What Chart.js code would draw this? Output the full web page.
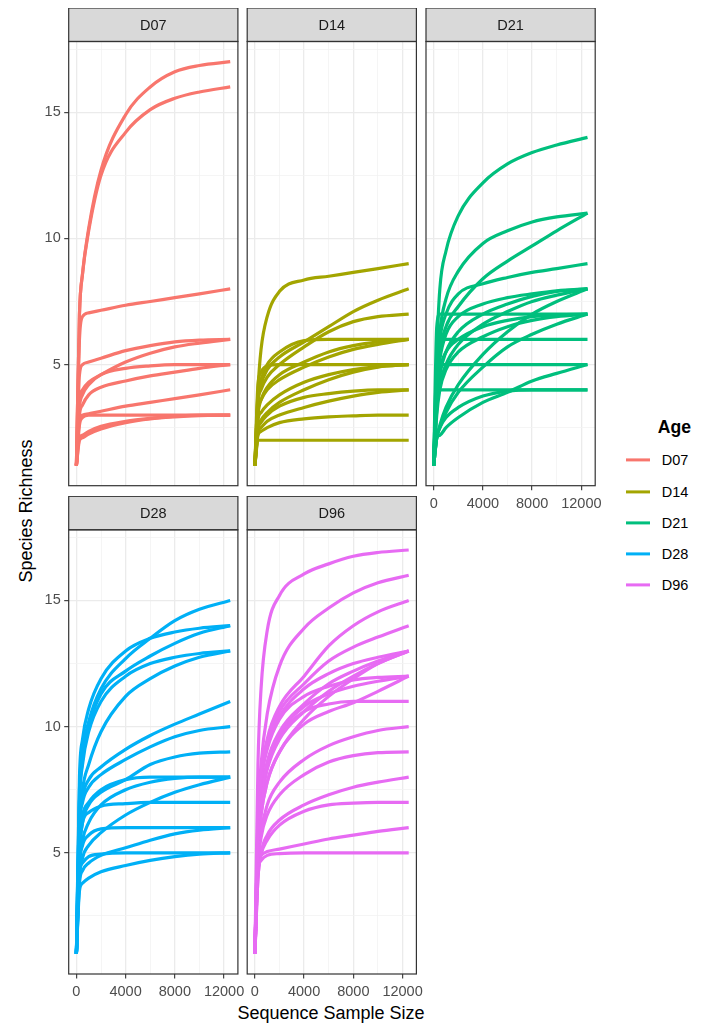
<!DOCTYPE html>
<html>
<head>
<meta charset="utf-8">
<script src="https://cdn.jsdelivr.net/npm/chart.js@4.4.1/dist/chart.umd.min.js"></script>
<style>
  body { margin: 0; background: #fff; }
  #page { position: relative; width: 702px; height: 1028px; overflow: hidden; font-family: "Liberation Sans", Arial, sans-serif; }
  #page canvas { position: absolute; }
  .axis-title { position: absolute; font-size: 18px; color: #000; white-space: nowrap; transform: translate(-50%, -50%); }
  .legend-title { position: absolute; font-size: 17.6px; font-weight: bold; color: #000; transform: translateY(-50%); }
  .legend-key { position: absolute; height: 3.2px; transform: translateY(-50%); }
  .legend-label { position: absolute; font-size: 14.5px; color: #000; transform: translateY(-50%); }
</style>
</head>
<body>
<div id="page">
  <div class="axis-title" style="left:331px; top:1013px;">Sequence Sample Size</div>
  <div class="axis-title" style="left:26px; top:511px; transform: translate(-50%, -50%) rotate(-90deg);">Species Richness</div>
</div>
<script>
const depths = [1, 250, 500, 1000, 2000, 4000, 6000, 8000, 10000, 12500];

const ageGroups = ['D07', 'D14', 'D21', 'D28', 'D96'];
const ageColors = ['#F8766D', '#A3A500', '#00BF7D', '#00B0F6', '#E76BF3'];

// grid breaks (major + minor) and the labelled ones
const xBreaks = [0, 2000, 4000, 6000, 8000, 10000, 12000];
const yBreaks = [2.5, 5, 7.5, 10, 12.5, 15, 17.5];
const xTickLabels = [0, 4000, 8000, 12000];
const yTickLabels = [5, 10, 15];

// one row per sample, values follow depths
const richnessD07 = [
    [1, 7.0, 8.6, 10.4, 12.7, 14.9, 16.0, 16.6, 16.85, 17],
    [1, 7.0, 8.6, 10.3, 12.5, 14.2, 15.1, 15.55, 15.8, 16],
    [1, 6.0, 6.9, 7.05, 7.15, 7.35, 7.5, 7.65, 7.8, 8],
    [1, 4.6, 5.0, 5.1, 5.25, 5.55, 5.75, 5.9, 5.97, 6],
    [1, 3.6, 4.0, 4.3, 4.6, 5.1, 5.45, 5.7, 5.85, 6],
    [1, 3.3, 3.8, 4.2, 4.6, 4.85, 4.95, 5, 5, 5],
    [1, 3.0, 3.4, 3.8, 4.1, 4.35, 4.55, 4.7, 4.85, 5],
    [1, 2.8, 3.0, 3.05, 3.15, 3.35, 3.5, 3.65, 3.8, 4],
    [1, 2.6, 2.9, 3.0, 3.0, 3.0, 3.0, 3.0, 3.0, 3],
    [1, 2.1, 2.2, 2.35, 2.55, 2.75, 2.87, 2.95, 3, 3],
    [1, 2.0, 2.1, 2.25, 2.45, 2.7, 2.85, 2.93, 2.98, 3]
];

const richnessD14 = [
    [1, 4.0, 5.6, 6.9, 7.9, 8.35, 8.5, 8.65, 8.8, 9],
    [1, 3.5, 4.2, 4.8, 5.3, 5.9, 6.5, 7.1, 7.55, 8],
    [1, 3.5, 4.0, 4.5, 5.0, 5.7, 6.3, 6.7, 6.9, 7],
    [1, 3.8, 4.4, 5.0, 5.5, 5.95, 6, 6, 6, 6],
    [1, 3.2, 3.6, 4.0, 4.4, 4.9, 5.3, 5.6, 5.8, 6],
    [1, 3.0, 3.6, 4.1, 4.6, 5.1, 5.5, 5.75, 5.9, 6],
    [1, 4.2, 4.7, 4.95, 5, 5, 5, 5, 5, 5],
    [1, 2.8, 3.1, 3.4, 3.8, 4.3, 4.6, 4.8, 4.92, 5],
    [1, 2.5, 2.8, 3.1, 3.5, 4.0, 4.4, 4.7, 4.9, 5],
    [1, 2.4, 2.7, 3.0, 3.35, 3.7, 3.85, 3.95, 4, 4],
    [1, 2.3, 2.5, 2.75, 3.0, 3.3, 3.55, 3.75, 3.9, 4],
    [1, 2.2, 2.35, 2.5, 2.7, 2.85, 2.93, 2.97, 3, 3],
    [1, 2, 2, 2, 2, 2, 2, 2, 2, 2]
];

const richnessD21 = [
    [1, 5.5, 8.0, 9.5, 10.9, 12.2, 12.95, 13.4, 13.7, 14],
    [1, 4.5, 6.3, 7.6, 8.7, 9.8, 10.3, 10.65, 10.85, 11],
    [1, 4.0, 5.5, 6.5, 7.3, 8.4, 9.1, 9.7, 10.3, 11],
    [1, 4.5, 6.0, 7.0, 7.8, 8.2, 8.45, 8.65, 8.8, 9],
    [1, 4.0, 5.2, 6.2, 6.9, 7.4, 7.65, 7.8, 7.92, 8],
    [1, 3.5, 4.6, 5.5, 6.3, 7.0, 7.4, 7.7, 7.9, 8],
    [1, 3.2, 4.2, 5.0, 5.8, 6.6, 7.1, 7.5, 7.75, 8],
    [1, 2.1, 2.6, 3.3, 4.2, 5.4, 6.3, 7.0, 7.5, 8],
    [1, 6.5, 7, 7, 7, 7, 7, 7, 7, 7],
    [1, 3.8, 4.8, 5.5, 6.0, 6.5, 6.75, 6.9, 6.97, 7],
    [1, 3.0, 4.0, 4.8, 5.5, 6.1, 6.5, 6.75, 6.9, 7],
    [1, 2.1, 2.5, 3.1, 3.9, 4.9, 5.7, 6.2, 6.6, 7],
    [1, 5.2, 5.8, 6, 6, 6, 6, 6, 6, 6],
    [1, 4.5, 5, 5, 5, 5, 5, 5, 5, 5],
    [1, 2.1, 2.2, 2.5, 2.9, 3.5, 3.9, 4.35, 4.65, 5],
    [1, 3.8, 4, 4, 4, 4, 4, 4, 4, 4],
    [1, 2.1, 2.5, 2.9, 3.3, 3.75, 3.95, 4, 4, 4]
];

const richnessD28 = [
    [1, 7.5, 9.0, 10.2, 11.5, 12.7, 13.5, 14.2, 14.65, 15],
    [1, 8.0, 9.5, 10.7, 11.9, 13.0, 13.5, 13.75, 13.9, 14],
    [1, 7.0, 8.7, 10.0, 11.3, 12.2, 12.8, 13.3, 13.7, 14],
    [1, 7.0, 8.5, 9.8, 11.0, 12.0, 12.5, 12.75, 12.9, 13],
    [1, 6.0, 7.5, 8.5, 9.8, 11.2, 11.9, 12.4, 12.75, 13],
    [1, 6.0, 7.2, 7.9, 8.4, 9.1, 9.65, 10.1, 10.5, 11],
    [1, 6.0, 7.0, 7.6, 8.1, 8.7, 9.2, 9.6, 9.85, 10],
    [1, 5.0, 6.2, 6.9, 7.4, 7.9, 8.5, 8.8, 8.95, 9],
    [1, 5.5, 6.5, 7.0, 7.5, 7.9, 8, 8, 8, 8],
    [1, 4.5, 5.5, 6.2, 6.9, 7.5, 7.8, 7.95, 8, 8],
    [1, 4.0, 4.8, 5.3, 5.8, 6.5, 7.0, 7.4, 7.7, 8],
    [1, 5.0, 6.2, 6.6, 6.85, 6.95, 7, 7, 7, 7],
    [1, 4.5, 5.3, 5.7, 5.95, 6, 6, 6, 6, 6],
    [1, 3.8, 4.3, 4.6, 4.9, 5.2, 5.5, 5.75, 5.9, 6],
    [1, 4.2, 4.6, 4.85, 4.95, 5, 5, 5, 5, 5],
    [1, 3.5, 3.8, 4.0, 4.25, 4.5, 4.7, 4.85, 4.95, 5]
];

const richnessD96 = [
    [1, 8.5, 11.5, 13.8, 15.2, 16.05, 16.45, 16.75, 16.9, 17],
    [1, 6.5, 8.5, 10.5, 12.4, 13.9, 14.7, 15.3, 15.7, 16],
    [1, 6.0, 8.0, 9.5, 10.8, 12.0, 13.2, 14.0, 14.55, 15],
    [1, 6.0, 7.8, 9.3, 10.6, 11.7, 12.6, 13.15, 13.55, 14],
    [1, 6.0, 7.8, 9.2, 10.4, 11.5, 12.1, 12.5, 12.75, 13],
    [1, 5.5, 7.2, 8.6, 9.8, 10.9, 11.7, 12.2, 12.6, 13],
    [1, 5.5, 7.0, 8.3, 9.5, 10.6, 11.4, 12.0, 12.5, 13],
    [1, 5.0, 6.5, 7.8, 9.0, 10.3, 11.2, 11.9, 12.5, 13],
    [1, 6.0, 7.8, 9.1, 10.3, 11.2, 11.6, 11.85, 11.95, 12],
    [1, 5.5, 7.2, 8.5, 9.7, 10.8, 11.3, 11.6, 11.8, 12],
    [1, 5.0, 6.5, 7.8, 9.0, 10.1, 10.6, 10.95, 11.4, 12],
    [1, 5.5, 7.0, 8.4, 9.6, 10.6, 10.9, 11, 11, 11],
    [1, 4.5, 5.8, 6.9, 7.8, 8.7, 9.25, 9.6, 9.85, 10],
    [1, 4.5, 5.6, 6.5, 7.3, 8.1, 8.6, 8.85, 8.97, 9],
    [1, 4.0, 5.0, 5.7, 6.3, 6.9, 7.3, 7.6, 7.8, 8],
    [1, 4.0, 4.9, 5.5, 6.1, 6.65, 6.9, 6.97, 7, 7],
    [1, 4.5, 4.9, 5.05, 5.15, 5.35, 5.55, 5.7, 5.85, 6],
    [1, 4.3, 4.7, 4.9, 4.97, 5, 5, 5, 5, 5]
];

const richnessByAge = [richnessD07, richnessD14, richnessD21, richnessD28, richnessD96];

// facet layout (px)
const COL_LEFT = [68.7, 247.2, 426];
const STRIP_TOP = [8, 496.3];
const STRIP_H = 33.5;
const PLOT_W = 169.2;
const PLOT_H = 444.2;
const Y_AXIS_W = 50;
const X_AXIS_H = 40;
const FONT = '"Liberation Sans", Arial, sans-serif';

const page = document.getElementById('page');

// grey strip with the facet label, plus the dark panel border
const facetStrip = {
    id: 'facetStrip',
    beforeDraw(chart, args, opts) {
        const { ctx, chartArea: a } = chart;
        ctx.save();
        ctx.fillStyle = '#d9d9d9';
        ctx.fillRect(a.left, a.top - opts.height, a.width, opts.height);
        ctx.fillStyle = '#1a1a1a';
        ctx.font = '14.5px ' + FONT;
        ctx.textAlign = 'center';
        ctx.textBaseline = 'middle';
        ctx.fillText(opts.label, (a.left + a.right) / 2, a.top - opts.height / 2 + 1);
        ctx.restore();
    },
    afterDraw(chart, args, opts) {
        const { ctx, chartArea: a } = chart;
        ctx.save();
        ctx.strokeStyle = '#333333';
        ctx.lineWidth = 1.2;
        ctx.strokeRect(a.left, a.top - opts.height, a.width, opts.height);
        ctx.strokeRect(a.left, a.top, a.width, a.height);
        ctx.restore();
    }
};

function isMajor(value, labels) {
    return labels.includes(value);
}

// build an axis whose gridlines sit on the given breaks
function facetAxis(breaks, labels, showLabels, extra) {
    return Object.assign({
        border: { display: false },
        afterBuildTicks: s => { s.ticks = breaks.map(v => ({ value: v })); },
        grid: {
            color: c => isMajor(c.tick.value, labels) ? '#ebebeb' : '#f3f3f3',
            lineWidth: c => isMajor(c.tick.value, labels) ? 1.3 : 0.8,
            drawTicks: showLabels,
            tickLength: 4.5,
            tickWidth: 1.1,
            tickColor: c => isMajor(c.tick.value, labels) ? '#333333' : 'rgba(0,0,0,0)'
        },
        ticks: {
            display: showLabels,
            autoSkip: false,
            maxRotation: 0,
            color: '#4d4d4d',
            font: { family: FONT, size: 14.5 },
            callback: v => isMajor(v, labels) ? String(v) : ''
        }
    }, extra);
}

function renderPanel(index) {
    const col = index % 3;
    const row = Math.floor(index / 3);
    const left = Math.floor(COL_LEFT[col] - Y_AXIS_W);
    const top = Math.floor(STRIP_TOP[row]);
    const yAxisW = COL_LEFT[col] - left;
    const padTop = STRIP_TOP[row] - top + STRIP_H;
    const width = Math.ceil(yAxisW + PLOT_W + 14);
    const height = Math.ceil(padTop + PLOT_H + X_AXIS_H);

    const canvas = document.createElement('canvas');
    canvas.width = width;
    canvas.height = height;
    canvas.style.left = left + 'px';
    canvas.style.top = top + 'px';
    page.appendChild(canvas);

    const showX = index >= 2;
    const showY = col === 0;
    const color = ageColors[index];

    const datasets = richnessByAge[index].map(curve => ({
        data: depths.map((d, i) => ({ x: d, y: curve[i] })),
        borderColor: color,
        borderWidth: 3.2,
        pointRadius: 0,
        fill: false,
        cubicInterpolationMode: 'monotone'
    }));

    const xAxis = facetAxis(xBreaks, xTickLabels, showX, {
        type: 'linear',
        min: -625,
        max: 13125,
        afterFit: s => { s.height = X_AXIS_H; }
    });
    xAxis.ticks.padding = 5;

    const yAxis = facetAxis(yBreaks, yTickLabels, showY, {
        type: 'linear',
        min: 0.2,
        max: 17.8,
        afterFit: s => { s.width = yAxisW; }
    });
    yAxis.ticks.padding = 3.5;

    new Chart(canvas, {
        type: 'line',
        data: { datasets },
        options: {
            responsive: false,
            animation: false,
            events: [],
            layout: {
                padding: {
                    top: padTop,
                    right: width - yAxisW - PLOT_W,
                    bottom: height - padTop - PLOT_H - X_AXIS_H,
                    left: 0
                }
            },
            scales: { x: xAxis, y: yAxis },
            plugins: {
                legend: { display: false },
                tooltip: { enabled: false },
                facetStrip: { label: ageGroups[index], height: STRIP_H }
            }
        },
        plugins: [facetStrip]
    });
}

function renderLegend() {
    const title = document.createElement('div');
    title.className = 'legend-title';
    title.textContent = 'Age';
    title.style.left = '657.7px';
    title.style.top = '426.7px';
    page.appendChild(title);

    ageGroups.forEach((age, i) => {
        const y = 460.3 + i * 31.25;
        const key = document.createElement('div');
        key.className = 'legend-key';
        key.style.left = '625.7px';
        key.style.width = '24.3px';
        key.style.top = y + 'px';
        key.style.background = ageColors[i];
        page.appendChild(key);

        const label = document.createElement('div');
        label.className = 'legend-label';
        label.textContent = age;
        label.style.left = '661.7px';
        label.style.top = y + 'px';
        page.appendChild(label);
    });
}

ageGroups.forEach((age, i) => renderPanel(i));
renderLegend();
</script>
</body>
</html>
